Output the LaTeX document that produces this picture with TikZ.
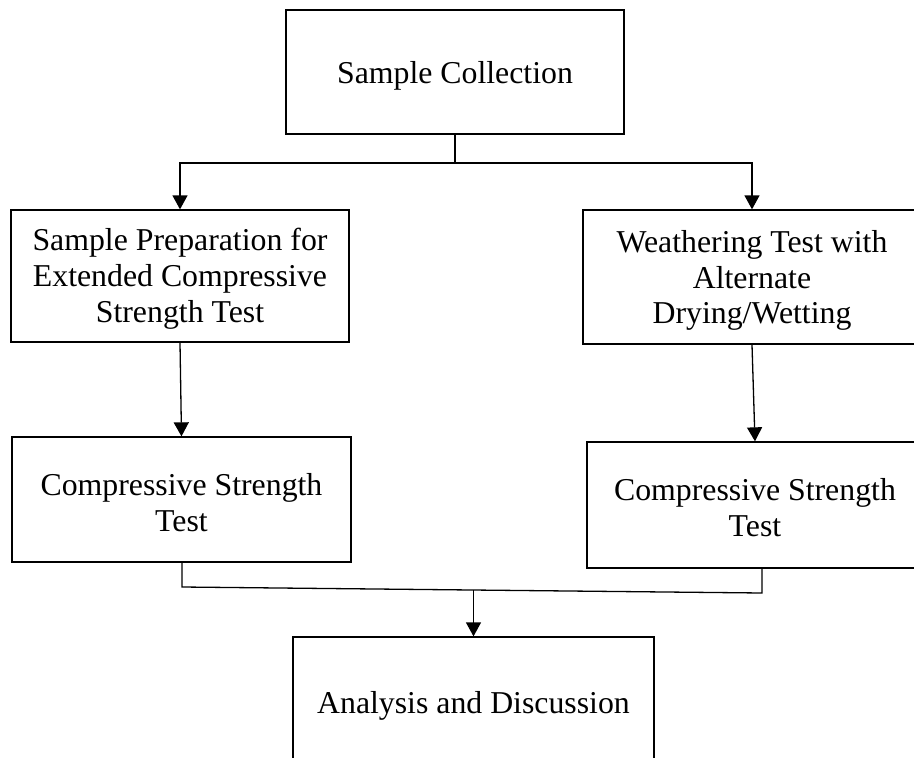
\documentclass[tikz,border=0pt]{standalone}
\usepackage{fontspec}
\setmainfont{Liberation Serif}
\usetikzlibrary{arrows.meta,calc}
\begin{document}
\begin{tikzpicture}[x=1pt,y=-1pt,
  box/.style={draw=black,line width=1.3pt,inner sep=0pt},
  txt/.style={inner sep=0pt,align=center,font=\fontsize{31.8pt}{35.8pt}\selectfont},
  conn/.style={draw=black,line width=1.3pt},
  arr/.style={conn,-{Triangle[length=14pt,width=15pt]}}]
\useasboundingbox (0,0) rectangle (914,758);
\clip (0,0) rectangle (914,758);
\fill[white] (0,0) rectangle (914,758);
\node[box,minimum width=338pt,minimum height=124pt] (top) at (455,72) {};
\node[box,minimum width=338pt,minimum height=132pt] (prep) at (180,276) {};
\node[box,minimum width=338pt,minimum height=134pt] (weath) at (752,277) {};
\node[box,minimum width=339pt,minimum height=125pt] (comp1) at (181.5,499.5) {};
\node[box,minimum width=336pt,minimum height=126pt] (comp2) at (755,505) {};
\node[box,minimum width=361pt,minimum height=130pt] (anal) at (473.5,702) {};
\node[txt] (topt) at ([yshift=-3.5pt]top.center) {Sample Collection};
\node[txt] (prept) at ([yshift=-3pt]prep.center) {Sample Preparation for\\Extended Compressive\\Strength Test};
\node[txt] (weatht) at ([yshift=-3.5pt]weath.center) {Weathering Test with\\Alternate\\Drying/Wetting};
\node[txt] (comp1t) at ([yshift=-3pt]comp1.center) {Compressive Strength\\Test};
\node[txt] (comp2t) at ([yshift=-3pt]comp2.center) {Compressive Strength\\Test};
\node[txt] (analt) at ([yshift=-3.5pt]anal.center) {Analysis and Discussion};
\coordinate (t1) at (455,163);
\draw[conn] (top.south) -- (t1);
\draw[arr] (t1) -| (prep.north);
\draw[arr] (t1) -| (weath.north);
\draw[arr] (prep.south) -- (comp1.north);
\draw[arr] (weath.south) -- (comp2.north);
\coordinate (j1) at (182,587);
\coordinate (j2) at (762,593);
\coordinate (jm) at (473.5,590);
\draw[conn] (comp1.south -| j1) -- (j1) -- (j2) -- (comp2.south -| j2);
\draw[arr] (jm) -- (anal.north);
\end{tikzpicture}
\end{document}
